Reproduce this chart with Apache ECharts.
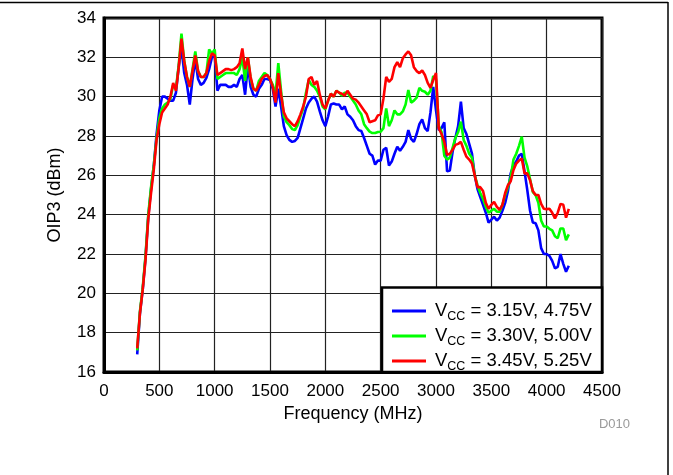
<!DOCTYPE html>
<html>
<head>
<meta charset="utf-8">
<script src="https://cdn.jsdelivr.net/npm/echarts@6/dist/echarts.min.js"></script>
<style>
html,body{margin:0;padding:0;background:#fff;}
#chart{width:673px;height:475px;}
</style>
</head>
<body>
<div id="chart"></div>
<script>
const freq = [300,325,350,375,400,425,450,475,500,525,550,575,600,625,650,675,700,725,750,775,800,825,850,875,900,925,950,975,1000,1025,1050,1075,1100,1125,1150,1175,1200,1225,1250,1275,1300,1325,1350,1375,1400,1425,1450,1475,1500,1525,1550,1575,1600,1625,1650,1675,1700,1725,1750,1775,1800,1825,1850,1875,1900,1925,1950,1975,2000,2025,2050,2075,2100,2125,2150,2175,2200,2225,2250,2275,2300,2325,2350,2375,2400,2425,2450,2475,2500,2525,2550,2575,2600,2625,2650,2675,2700,2725,2750,2775,2800,2825,2850,2875,2900,2925,2950,2975,3000,3025,3050,3075,3100,3125,3150,3175,3200,3225,3250,3275,3300,3325,3350,3375,3400,3425,3450,3475,3500,3525,3550,3575,3600,3625,3650,3675,3700,3725,3750,3775,3800,3825,3850,3875,3900,3925,3950,3975,4000,4025,4050,4075,4100,4125,4150,4175,4200];

const oip3Low = [16.9,19.0,20.2,21.8,23.9,25.3,26.5,28.1,29.3,30.0,30.0,29.9,29.8,29.8,30.2,31.5,32.5,31.2,30.6,29.6,30.9,31.9,30.9,30.6,30.7,30.95,31.4,32.0,32.1,30.3,30.6,30.6,30.6,30.5,30.5,30.6,30.5,30.9,31.1,30.1,31.6,30.5,30.1,30.0,30.4,30.6,30.9,30.9,30.85,30.4,29.5,30.4,29.5,28.5,28.05,27.8,27.7,27.75,27.9,28.4,28.9,29.4,29.7,29.9,30.0,29.75,29.25,28.8,28.5,29.0,29.6,29.65,29.6,29.6,29.35,29.5,29.1,28.98,28.8,28.5,28.3,28.25,27.9,27.5,27.1,27.0,26.55,26.75,26.75,27.3,27.4,26.5,26.7,27.1,27.45,27.25,27.45,27.7,28.3,27.85,27.7,28.1,28.6,28.85,28.4,28.25,29.2,30.5,29.3,28.3,28.4,28.7,26.2,26.25,27.2,27.9,28.5,29.75,28.4,28.1,27.6,27.1,26.0,25.3,24.9,24.5,24.1,23.6,23.75,23.9,23.7,23.85,24.2,24.6,25.2,26.1,26.5,26.7,27.0,27.1,26.2,25.25,24.2,23.6,23.56,23.2,22.3,22.0,22.0,21.9,21.65,21.27,21.35,22.0,21.5,21.1,21.4];

const oip3Nom = [17.1,19.1,20.3,21.9,24.0,25.4,26.5,27.9,28.9,29.4,29.6,29.7,29.9,30.6,30.4,31.6,33.2,31.8,31.0,30.5,31.4,32.3,31.3,31.0,31.0,31.2,32.4,32.2,32.4,30.9,31.0,31.1,31.2,31.2,31.2,31.2,31.1,31.4,32.0,30.8,32.0,30.9,30.4,30.3,30.8,31.0,31.2,31.1,30.9,30.6,30.1,31.7,30.3,29.0,28.7,28.55,28.35,28.3,28.55,29.0,29.4,30.2,30.85,30.6,30.5,30.3,30.0,29.5,29.35,29.8,30.15,30.0,30.3,30.2,30.05,30.2,30.2,30.0,29.8,29.6,29.3,29.1,28.6,28.4,28.22,28.15,28.15,28.2,28.22,28.4,29.4,28.5,28.8,29.3,29.1,29.1,29.25,29.6,30.34,29.7,29.8,29.95,30.45,30.3,30.25,30.1,30.3,31.05,30.9,28.5,28.2,27.0,26.8,26.9,27.4,27.9,28.2,28.73,27.8,27.5,27.1,26.9,26.0,25.5,25.1,24.8,24.4,24.1,24.2,24.3,24.15,24.15,24.5,25.0,25.4,25.9,26.8,27.1,27.5,27.97,26.9,26.45,25.8,25.15,25.0,24.6,23.7,23.4,23.4,23.28,23.2,22.9,22.8,23.3,23.3,22.7,23.0];

const oip3High = [17.2,19.0,20.2,21.7,23.8,25.1,26.3,27.8,28.6,29.2,29.4,29.6,30.0,30.7,30.3,31.5,32.95,31.8,31.0,30.5,31.3,32.1,31.3,31.0,31.0,31.2,31.8,32.2,32.1,31.1,31.2,31.3,31.4,31.4,31.35,31.4,31.5,31.7,32.45,31.4,32.0,31.0,30.4,30.3,30.6,30.9,31.05,31.1,30.9,30.5,29.7,31.2,30.1,29.2,28.9,28.75,28.6,28.5,28.75,29.1,29.5,30.0,30.9,31.0,30.6,30.8,30.1,29.6,29.4,29.8,30.15,30.0,30.3,30.2,30.15,30.05,30.3,30.1,29.9,29.85,29.7,29.5,29.3,29.1,28.7,28.75,28.8,29.05,29.1,29.9,31.0,30.75,30.9,31.5,31.75,31.5,31.95,32.15,32.3,32.1,31.5,31.3,31.2,31.33,31.1,30.7,30.45,30.85,31.2,28.4,28.1,27.7,27.05,27.1,27.3,27.55,27.6,27.7,27.3,26.95,26.8,26.6,26.0,25.4,25.4,25.2,24.6,24.3,24.5,24.65,24.4,24.25,24.5,25.1,25.5,25.7,26.27,26.6,26.75,26.86,26.1,26.1,25.75,25.2,25.0,25.0,24.55,24.3,24.28,24.3,24.1,23.81,24.1,24.55,24.5,23.85,24.3];

const seriesNames = ['VCC = 3.15V, 4.75V', 'VCC = 3.30V, 5.00V', 'VCC = 3.45V, 5.25V'];
const seriesColors = ['#0000ff', '#00ff00', '#ff0000'];
const xTicks = [0, 4500, 500];
const yTicks = [16, 34, 2];

const FONT = 'Liberation Sans, Arial, sans-serif';
const seriesData = [oip3Low, oip3Nom, oip3High];

const chart = echarts.init(document.getElementById('chart'), null, {renderer: 'canvas'});
chart.setOption({
  animation: false,
  backgroundColor: '#fff',
  textStyle: {fontFamily: FONT},
  grid: {left: 104, top: 18, right: 71, bottom: 103, show: true, borderColor: '#000', borderWidth: 3, backgroundColor: 'transparent'},
  xAxis: {
    type: 'value', min: xTicks[0], max: xTicks[1], interval: xTicks[2],
    name: 'Frequency (MHz)', nameLocation: 'middle', nameGap: 33,
    nameTextStyle: {fontSize: 18, color: '#000', fontFamily: FONT},
    axisLine: {show: true, onZero: false, lineStyle: {color: '#000', width: 3}},
    axisTick: {show: false},
    axisLabel: {fontSize: 17, color: '#000', margin: 11, fontFamily: FONT, formatter: v => String(v)},
    splitLine: {show: true, lineStyle: {color: '#222', width: 1.2}}
  },
  yAxis: {
    type: 'value', min: yTicks[0], max: yTicks[1], interval: yTicks[2],
    name: 'OIP3 (dBm)', nameLocation: 'middle', nameGap: 40,
    nameTextStyle: {fontSize: 18, color: '#000', fontFamily: FONT},
    axisLine: {show: true, onZero: false, lineStyle: {color: '#000', width: 3}},
    axisTick: {show: false},
    axisLabel: {fontSize: 17, color: '#000', margin: 8, fontFamily: FONT, formatter: v => String(v)},
    splitLine: {show: true, lineStyle: {color: '#222', width: 1.2}}
  },
  legend: {
    orient: 'vertical', left: 392, top: 298.5, padding: 0, itemGap: 0,
    itemWidth: 34, itemHeight: 3, icon: 'rect', z: 20,
    data: seriesNames,
    formatter: function (name) {
      const rest = name.replace('VCC', '');
      return '{p|}{v|V}{s|CC}{v|' + rest + '}';
    },
    textStyle: {
      fontFamily: FONT, color: '#000',
      rich: {
        p: {width: 4, lineHeight: 21.3},
        v: {fontSize: 18.5, lineHeight: 21.3, fontFamily: FONT, color: '#000'},
        s: {fontSize: 12.5, lineHeight: 10, padding: [12, 0, 0, 0], fontFamily: FONT, color: '#000'}
      }
    }
  },
  graphic: [
    {type: 'rect', z: 15, shape: {x: 382, y: 287.5, width: 220, height: 84.5}, style: {fill: '#fff', stroke: '#000', lineWidth: 2.5}},
    {type: 'line', z: 15, shape: {x1: 0, y1: 2.5, x2: 668, y2: 2.5}, style: {stroke: '#000', lineWidth: 1.5}},
    {type: 'line', z: 15, shape: {x1: 668, y1: 2, x2: 668, y2: 475}, style: {stroke: '#000', lineWidth: 1.5}},
    {type: 'text', z: 15, style: {x: 630, y: 424, text: 'D010', fill: '#9a9a9a', font: '13px ' + FONT, textAlign: 'right', textVerticalAlign: 'middle'}}
  ],
  series: seriesNames.map((n, i) => ({
    name: n, type: 'line', showSymbol: false, symbol: 'none', z: 3 + i,
    color: seriesColors[i],
    lineStyle: {color: seriesColors[i], width: 2.6},
    data: freq.map((f, k) => [f, seriesData[i][k]])
  }))
});
</script>
</body>
</html>
